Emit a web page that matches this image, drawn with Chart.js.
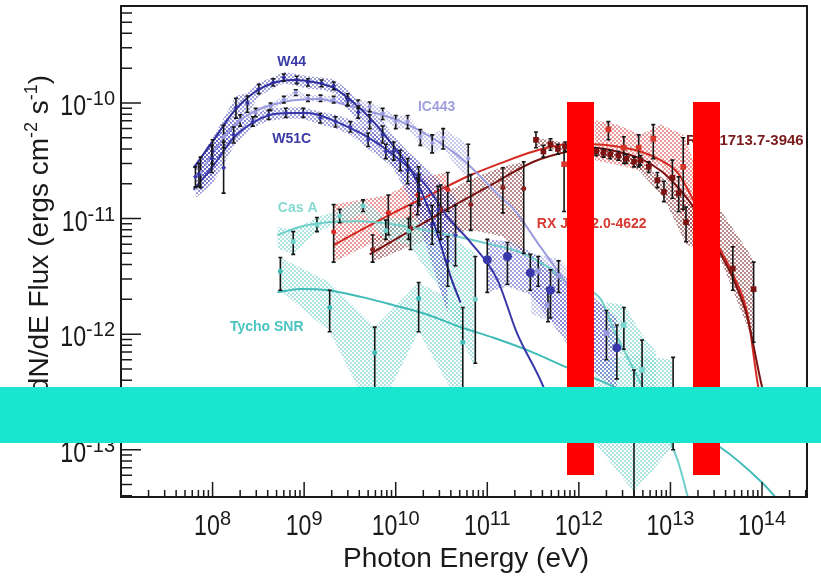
<!DOCTYPE html>
<html>
<head>
<meta charset="utf-8">
<script src="https://cdn.jsdelivr.net/npm/chart.js@4.4.1/dist/chart.umd.min.js"></script>
<style>
  html, body { margin: 0; padding: 0; background: #fff; }
</style>
</head>
<body>
<canvas id="c" width="821" height="584"></canvas>
<script>
// ---- W44 (Fermi) ----
const w44E  = [7.1e7, 9.8e7, 1.8e8, 2.4e8, 3.2e8, 4.6e8, 6.0e8, 8.3e8, 1.1e9, 1.55e9, 2.1e9, 3.0e9, 3.9e9, 5.2e9, 7.2e9, 9.5e9, 1.35e10, 1.8e10, 2.5e10, 3.7e10];
const w44F  = [2.4e-11, 3.3e-11, 9.1e-11, 1.0e-10, 1.32e-10, 1.51e-10, 1.66e-10, 1.58e-10, 1.51e-10, 1.48e-10, 1.41e-10, 1.07e-10, 8.3e-11, 6.9e-11, 5.3e-11, 3.8e-11, 2.6e-11, 1.78e-11, 8.9e-12, 4.3e-12];
const w44Hi = [3.0e-11, 4.3e-11, 1.1e-10, 1.15e-10, 1.45e-10, 1.62e-10, 1.78e-10, 1.70e-10, 1.62e-10, 1.58e-10, 1.52e-10, 1.2e-10, 9.4e-11, 7.9e-11, 6.3e-11, 4.6e-11, 3.3e-11, 2.4e-11, 1.3e-11, 7.0e-12];
const w44Lo = [1.9e-11, 2.5e-11, 7.4e-11, 8.3e-11, 1.2e-10, 1.40e-10, 1.55e-10, 1.47e-10, 1.40e-10, 1.38e-10, 1.30e-10, 9.5e-11, 7.4e-11, 6.0e-11, 4.5e-11, 3.2e-11, 2.0e-11, 1.3e-11, 6.0e-12, 2.6e-12];
const w44BandHi = [3.2e-11, 4.8e-11, 1.15e-10, 1.22e-10, 1.5e-10, 1.68e-10, 1.85e-10, 1.78e-10, 1.7e-10, 1.66e-10, 1.6e-10, 1.3e-10, 1.02e-10, 8.6e-11, 7.0e-11, 5.2e-11, 3.8e-11, 2.9e-11, 1.7e-11, 1.0e-11];
const w44BandLo = [1.7e-11, 2.2e-11, 6.8e-11, 8.0e-11, 1.14e-10, 1.34e-10, 1.48e-10, 1.4e-10, 1.33e-10, 1.3e-10, 1.22e-10, 8.8e-11, 6.7e-11, 5.4e-11, 4.0e-11, 2.7e-11, 1.6e-11, 9.0e-12, 4.0e-12, 1.5e-12];
const w44FitE = [6.2e7, 1.03e8, 1.7e8, 2.8e8, 4.6e8, 7.7e8, 1.27e9, 2.1e9, 3.5e9, 5.7e9, 9.5e9, 1.56e10, 2.6e10, 4.0e10, 5.1e10];
const w44FitF = [2.74e-11, 4.8e-11, 8.4e-11, 1.22e-10, 1.49e-10, 1.58e-10, 1.52e-10, 1.35e-10, 1.0e-10, 6.9e-11, 4.2e-11, 2.4e-11, 9.2e-12, 3.1e-12, 1.87e-12];

// ---- W51C (Fermi + MAGIC) ----
const w51E  = [6.5e7, 1.0e8, 1.32e8, 1.7e8, 2.75e8, 4.1e8, 6.3e8, 9.8e8, 1.5e9, 2.2e9, 3.2e9, 5.0e9, 7.8e9, 1.12e10, 1.78e10, 2.9e10, 4.5e10];
const w51F  = [2.3e-11, 3.8e-11, 2.75e-11, 5.3e-11, 6.9e-11, 7.9e-11, 8.2e-11, 8.2e-11, 7.4e-11, 6.9e-11, 6.2e-11, 4.8e-11, 3.8e-11, 3.2e-11, 1.95e-11, 1.2e-11, 7.2e-12];
const w51Hi = [2.8e-11, 4.8e-11, 4.6e-11, 6.2e-11, 7.6e-11, 8.7e-11, 9.0e-11, 9.0e-11, 8.1e-11, 7.6e-11, 6.9e-11, 5.5e-11, 4.4e-11, 3.9e-11, 2.8e-11, 1.9e-11, 1.3e-11];
const w51Lo = [1.87e-11, 2.95e-11, 1.66e-11, 4.5e-11, 6.3e-11, 7.2e-11, 7.5e-11, 7.5e-11, 6.7e-11, 6.2e-11, 5.6e-11, 4.2e-11, 3.3e-11, 2.6e-11, 1.35e-11, 7.6e-12, 3.9e-12];
const w51BandE  = [6.5e7, 1.0e8, 1.7e8, 2.75e8, 4.1e8, 6.3e8, 9.8e8, 1.5e9, 2.2e9, 3.2e9, 5.0e9, 7.8e9, 1.12e10, 1.78e10, 2.9e10, 4.5e10];
const w51BandHi = [2.9e-11, 5.0e-11, 6.4e-11, 7.8e-11, 8.9e-11, 9.2e-11, 9.2e-11, 8.4e-11, 7.9e-11, 7.2e-11, 5.8e-11, 4.8e-11, 4.2e-11, 3.2e-11, 2.2e-11, 1.5e-11];
const w51BandLo = [1.5e-11, 2.0e-11, 4.2e-11, 6.1e-11, 7.0e-11, 7.3e-11, 7.3e-11, 6.5e-11, 6.0e-11, 5.3e-11, 4.0e-11, 3.1e-11, 2.4e-11, 1.2e-11, 6.5e-12, 3.5e-12];
const w51TevE  = [1.0e11, 1.66e11, 2.95e11, 4.9e11, 2.6e12];
const w51TevF  = [4.4e-12, 4.7e-12, 3.4e-12, 2.4e-12, 7.6e-13];
const w51TevHi = [6.6e-12, 6.2e-12, 4.9e-12, 3.6e-12, 1.2e-12];
const w51TevLo = [2.3e-12, 2.7e-12, 2.4e-12, 1.38e-12, 4.1e-13];
const w51TevBandE  = [1.0e11, 1.66e11, 2.95e11, 4.9e11, 1.0e12, 2.6e12];
const w51TevBandHi = [6.6e-12, 6.4e-12, 5.2e-12, 3.8e-12, 2.6e-12, 1.4e-12];
const w51TevBandLo = [2.3e-12, 2.6e-12, 2.2e-12, 1.3e-12, 6.0e-13, 3.3e-13];
const w51FitE = [6.2e7, 1.03e8, 1.7e8, 2.7e8, 4.3e8, 7.1e8, 1.09e9, 1.8e9, 3.0e9, 4.9e9, 8.1e9, 1.35e10, 2.2e10, 3.7e10, 6.6e10, 1.29e11, 2.1e11, 4.1e11, 5.5e11];
const w51FitF = [1.77e-11, 2.9e-11, 5.0e-11, 6.7e-11, 7.9e-11, 8.2e-11, 8.2e-11, 7.4e-11, 6.2e-11, 5.1e-11, 3.9e-11, 2.8e-11, 1.88e-11, 1.03e-11, 6.2e-12, 2.95e-12, 1.03e-12, 3.5e-13, 1.83e-13];

// ---- IC443 (Fermi + VERITAS) ----
const icE  = [7.4e7, 1.32e8, 2.0e8, 2.95e8, 4.3e8, 6.0e8, 8.1e8, 1.1e9, 1.51e9, 2.1e9, 2.95e9, 3.9e9, 5.2e9, 7.2e9, 1.0e10, 1.35e10, 1.86e10, 2.5e10, 3.3e10, 6.2e10];
const icF  = [2.5e-11, 5.1e-11, 7.1e-11, 8.3e-11, 9.3e-11, 1.07e-10, 1.23e-10, 1.1e-10, 1.1e-10, 1.07e-10, 1.02e-10, 9.8e-11, 9.3e-11, 8.1e-11, 6.9e-11, 6.9e-11, 5.1e-11, 4.5e-11, 5.0e-11, 3.3e-11];
const icHi = [3.4e-11, 6.4e-11, 7.9e-11, 9.0e-11, 1.0e-10, 1.14e-10, 1.3e-10, 1.17e-10, 1.17e-10, 1.14e-10, 1.1e-10, 1.06e-10, 1.02e-10, 9.0e-11, 7.8e-11, 7.8e-11, 5.9e-11, 5.3e-11, 6.0e-11, 4.4e-11];
const icLo = [1.85e-11, 4.1e-11, 6.3e-11, 7.6e-11, 8.6e-11, 1.0e-10, 1.16e-10, 1.03e-10, 1.03e-10, 1.0e-10, 9.4e-11, 9.0e-11, 8.4e-11, 7.2e-11, 6.0e-11, 6.0e-11, 4.3e-11, 3.7e-11, 4.0e-11, 2.1e-11];
const icTevE  = [3.6e11, 4.6e11, 6.0e11, 2.0e12];
const icTevF  = [3.5e-12, 1.78e-12, 3.2e-12, 1.02e-12];
const icTevHi = [4.7e-12, 2.5e-12, 4.3e-12, 1.6e-12];
const icTevLo = [2.6e-12, 1.28e-12, 2.3e-12, 6.0e-13];
const icTevBandE  = [3.0e11, 6.0e11, 2.0e12];
const icTevBandHi = [5.0e-12, 4.5e-12, 1.7e-12];
const icTevBandLo = [1.5e-12, 1.2e-12, 5.5e-13];
const icFitE = [8.3e7, 1.13e8, 1.78e8, 2.8e8, 6.0e8, 1.41e9, 3.2e9, 4.5e9, 1.05e10, 2.4e10, 5.5e10, 1.38e11, 1.95e11, 3.8e11, 7.8e11];
const icFitF = [2.9e-11, 4.2e-11, 6.5e-11, 8.4e-11, 1.02e-10, 1.08e-10, 9.4e-11, 8.7e-11, 7.1e-11, 5.1e-11, 3.2e-11, 1.55e-11, 1.2e-11, 5.7e-12, 2.57e-12];

// ---- Cas A ----
const casE  = [7.6e8, 1.38e9, 2.45e9, 4.4e9, 7.8e9, 1.38e10, 7.4e10];
const casF  = [6.3e-12, 8.9e-12, 1.05e-11, 1.29e-11, 7.9e-12, 7.8e-12, 2.0e-12];
const casHi = [7.7e-12, 1.02e-11, 1.2e-11, 1.45e-11, 9.7e-12, 1.0e-11, 4.7e-12];
const casLo = [4.9e-12, 7.7e-12, 9.2e-12, 1.15e-11, 6.6e-12, 6.6e-12, 5.6e-13];
const casBandE  = [5.1e8, 7.6e8, 1.38e9, 2.45e9, 4.4e9, 7.8e9, 1.38e10, 3.0e10, 7.4e10];
const casBandHi = [8.5e-12, 8.0e-12, 1.02e-11, 1.2e-11, 1.45e-11, 1.0e-11, 1.0e-11, 8.0e-12, 5.0e-12];
const casBandLo = [5.5e-12, 4.9e-12, 7.7e-12, 9.2e-12, 1.1e-11, 6.6e-12, 6.0e-12, 2.5e-12, 5.0e-13];
const casTevE  = [3.1e12, 4.9e12];
const casTevF  = [1.2e-12, 4.9e-13];
const casTevHi = [1.7e-12, 8.9e-13];
const casTevLo = [7.4e-13, 2.5e-13];
const casTevBandE  = [2.0e12, 3.1e12, 4.9e12, 7.0e12];
const casTevBandHi = [1.9e-12, 1.8e-12, 1.0e-12, 7.0e-13];
const casTevBandLo = [8.0e-13, 6.5e-13, 2.5e-13, 1.5e-13];
const casFitE = [5.1e8, 9.1e8, 1.82e9, 4.2e9, 9.5e9, 2.2e10, 5.1e10, 1.17e11, 2.3e11, 4.6e11, 7.6e11, 1.74e12, 2.4e12, 4.0e12, 1.2e13, 1.55e13];
const casFitF = [7.2e-12, 8.5e-12, 9.3e-12, 9.5e-12, 8.9e-12, 7.9e-12, 6.9e-12, 5.9e-12, 5.1e-12, 3.8e-12, 2.75e-12, 2.0e-12, 1.1e-12, 4.9e-13, 8.1e-14, 3.9e-14];

// ---- Tycho SNR ----
const tyE  = [5.5e8, 1.9e9, 5.9e9, 1.78e10, 5.4e10];
const tyF  = [3.5e-12, 1.7e-12, 6.9e-13, 2.04e-12, 8.5e-13];
const tyHi = [4.6e-12, 2.4e-12, 1.15e-12, 2.8e-12, 1.7e-12];
const tyLo = [2.4e-12, 1.05e-12, 2.7e-13, 1.05e-12, 3.3e-13];
const tyBandHi = [4.6e-12, 2.8e-12, 1.15e-12, 2.8e-12, 1.75e-12];
const tyBandLo = [2.4e-12, 1.05e-12, 1.8e-13, 1.05e-12, 2.2e-13];
const tyTevE  = [4.0e12, 1.07e13];
const tyTevF  = [1.23e-13, 2.45e-13];
const tyTevHi = [4.9e-13, 6.3e-13];
const tyTevLo = [3.9e-14, 1.0e-13];
const tyTevBandE  = [1.5e12, 4.0e12, 1.07e13];
const tyTevBandHi = [6.0e-13, 6.6e-13, 6.0e-13];
const tyTevBandLo = [1.15e-13, 4.3e-14, 1.07e-13];
const tyFitE = [5.1e8, 9.1e8, 1.82e9, 4.2e9, 9.5e9, 2.2e10, 5.1e10, 1.17e11, 2.95e11, 7.6e11, 2.4e12, 9.3e12, 3.5e13, 1.0e14, 1.4e14];
const tyFitF = [2.3e-12, 2.46e-12, 2.4e-12, 2.1e-12, 1.78e-12, 1.48e-12, 1.15e-12, 9.3e-13, 7.1e-13, 5.1e-13, 3.5e-13, 1.8e-13, 1.05e-13, 5.2e-14, 3.9e-14];

// ---- RX J1713.7-3946 (Fermi + HESS) ----
const r17E  = [5.6e9, 1.45e10, 3.1e10, 6.6e10, 1.48e11, 2.5e11];
const r17F  = [5.4e-12, 8.3e-12, 1.2e-11, 1.32e-11, 1.86e-11, 1.82e-11];
const r17Hi = [7.2e-12, 1.3e-11, 1.95e-11, 2.4e-11, 2.75e-11, 3.1e-11];
const r17Lo = [4.2e-12, 5.4e-12, 6.6e-12, 7.9e-12, 1.12e-11, 5.0e-12];
const r17BandHi = [6.5e-12, 1.1e-11, 1.6e-11, 2.2e-11, 2.8e-11, 3.1e-11];
const r17BandLo = [4.2e-12, 5.8e-12, 7.0e-12, 8.0e-12, 7.0e-12, 5.0e-12];
const r17HE  = [3.4e11, 4.1e11, 4.9e11, 5.9e11, 7.1e11, 1.55e12, 1.86e12, 2.2e12, 2.7e12, 3.3e12, 4.0e12, 4.7e12, 5.8e12, 7.2e12, 8.5e12, 1.05e13, 1.23e13, 1.48e13, 4.8e13, 8.1e13];
const r17HF  = [4.8e-11, 3.8e-11, 4.4e-11, 4.0e-11, 4.2e-11, 3.8e-11, 3.7e-11, 3.6e-11, 3.5e-11, 3.3e-11, 3.1e-11, 3.2e-11, 2.8e-11, 2.15e-11, 1.7e-11, 2.25e-11, 1.66e-11, 9.3e-12, 3.7e-12, 2.45e-12];
const r17HHi = [5.6e-11, 4.3e-11, 4.9e-11, 4.4e-11, 4.6e-11, 4.1e-11, 4.0e-11, 3.9e-11, 3.8e-11, 3.6e-11, 3.4e-11, 3.5e-11, 3.1e-11, 2.5e-11, 2.1e-11, 3.2e-11, 2.3e-11, 1.26e-11, 5.7e-12, 4.2e-12];
const r17HLo = [4.1e-11, 3.4e-11, 3.9e-11, 3.6e-11, 3.8e-11, 3.5e-11, 3.4e-11, 3.3e-11, 3.2e-11, 3.0e-11, 2.8e-11, 2.9e-11, 2.5e-11, 1.85e-11, 1.4e-11, 1.5e-11, 1.15e-11, 6.3e-12, 2.4e-12, 8.5e-13];
const r17HBandE  = [3.4e11, 1.5e12, 4.0e12, 8.5e12, 1.48e13, 3.5e13, 8.1e13];
const r17HBandHi = [5.0e-11, 4.1e-11, 3.4e-11, 2.2e-11, 1.4e-11, 1.2e-11, 4.4e-12];
const r17HBandLo = [4.2e-11, 3.5e-11, 2.9e-11, 1.5e-11, 6.0e-12, 4.5e-12, 8.5e-13];
const r17FitE = [5.2e9, 2.6e10, 1.0e11, 3.2e11, 7.6e11, 1.45e12, 2.6e12, 4.7e12, 7.8e12, 1.2e13, 1.78e13, 3.5e13, 4.9e13, 6.9e13, 1.0e14, 1.3e14];
const r17FitF = [4.9e-12, 1.03e-11, 1.87e-11, 3.1e-11, 3.8e-11, 4.1e-11, 3.8e-11, 3.3e-11, 2.6e-11, 1.87e-11, 1.26e-11, 5.0e-12, 2.95e-12, 1.41e-12, 3.5e-13, 1.66e-13];

// ---- RX J0852.0-4622 (Fermi + HESS) ----
const r08E  = [2.1e9, 8.3e9, 1.74e10, 3.7e10];
const r08F  = [7.7e-12, 1.12e-11, 1.6e-11, 1.78e-11];
const r08Hi = [1.32e-11, 1.6e-11, 2.25e-11, 2.5e-11];
const r08Lo = [4.2e-12, 7.2e-12, 1.08e-11, 1.15e-11];
const r08HE  = [6.9e11, 2.1e12, 3.1e12, 4.5e12, 6.5e12, 1.38e13];
const r08HF  = [2.95e-11, 5.9e-11, 4.1e-11, 4.1e-11, 4.9e-11, 2.8e-11];
const r08HHi = [4.2e-11, 6.9e-11, 5.1e-11, 5.3e-11, 6.5e-11, 5.0e-11];
const r08HLo = [1.15e-11, 4.8e-11, 3.0e-11, 2.8e-11, 3.3e-11, 1.2e-11];
const r08HBandE  = [1.5e12, 2.6e12, 4.7e12, 7.8e12, 1.38e13, 1.78e13];
const r08HBandHi = [7.1e-11, 6.5e-11, 5.3e-11, 6.5e-11, 5.3e-11, 3.2e-11];
const r08HBandLo = [3.2e-11, 2.9e-11, 2.6e-11, 2.9e-11, 9.8e-12, 7.2e-12];
const r08FitE = [2.1e9, 4.9e9, 1.12e10, 2.6e10, 6.0e10, 1.38e11, 3.2e11, 7.6e11, 1.45e12, 2.6e12, 4.7e12, 7.8e12, 1.2e13, 1.78e13, 3.5e13, 4.9e13, 6.9e13, 9.1e13, 1.12e14];
const r08FitF = [5.9e-12, 8.5e-12, 1.2e-11, 1.66e-11, 2.3e-11, 3.0e-11, 3.8e-11, 4.4e-11, 4.4e-11, 4.2e-11, 3.8e-11, 3.2e-11, 2.5e-11, 1.45e-11, 5.4e-12, 3.2e-12, 1.52e-12, 3.5e-13, 1.66e-13];

// source name labels, placed in data units
const labelText  = ['W44', 'W51C', 'IC443', 'Cas A', 'Tycho SNR', 'RX J0852.0-4622', 'RX J1713.7-3946'];
const labelE     = [7.3e8, 7.3e8, 2.8e10, 8.5e8, 3.9e8, 1.38e12, 6.5e13];
const labelF     = [2.25e-10, 4.9e-11, 9.2e-11, 1.23e-11, 1.15e-12, 8.9e-12, 4.7e-11];
const labelColor = ['#3a3aa6', '#3a3aa6', '#a0a0e0', '#86dad2', '#4cc4c0', '#d63a30', '#7a1a1a'];

// axis ticks
const xDecades = [7, 8, 9, 10, 11, 12, 13, 14];
const xLabelExp = ['8', '9', '10', '11', '12', '13', '14'];
const yDecades = [-14, -13, -12, -11, -10];
const yLabelExp = ['-10', '-11', '-12', '-13'];

const FONT = '"Liberation Sans", Arial, Helvetica, sans-serif';
const canvas = document.getElementById('c');
const ctx0 = canvas.getContext('2d');

// dotted fill like ROOT's pattern fill
function hatch(color) {
  const t = document.createElement('canvas');
  t.width = 4; t.height = 4;
  const g = t.getContext('2d');
  g.fillStyle = color;
  g.fillRect(0, 0, 2, 2);
  g.fillRect(2, 2, 2, 2);
  return ctx0.createPattern(t, 'repeat');
}

const pts = (E, F) => E.map((e, i) => ({ x: e, y: F[i] }));

function band(E, hi, lo, pat) {
  return [
    { data: pts(E, hi), fill: '+1', backgroundColor: pat, borderWidth: 0, pointRadius: 0, tension: 0, order: 3 },
    { data: pts(E, lo), fill: false, borderWidth: 0, pointRadius: 0, tension: 0, order: 3 }
  ];
}
function fit(E, F, color) {
  return { data: pts(E, F), borderColor: color, borderWidth: 2, pointRadius: 0, fill: false,
           cubicInterpolationMode: 'monotone', order: 2 };
}
function marks(E, F, hi, lo, color, style, r) {
  return { data: pts(E, F), errHi: hi, errLo: lo, showLine: false, pointRadius: r, pointStyle: style,
           backgroundColor: color, borderColor: color, borderWidth: 0, pointBorderWidth: 0, order: 1 };
}

const cW44 = '#2e2e9e', cW51 = '#3838aa', cIC = '#9a9ade', cCas = '#6fd0ca', cTy = '#3fbcb8', cR08 = '#d42a22', cR17 = '#7c1212';
const hBlue = 'rgba(70,70,185,0.5)', hLav = 'rgba(160,160,228,0.55)', hCyan = 'rgba(120,212,206,0.6)',
      hMaroon = 'rgba(128,40,40,0.55)', hRed = 'rgba(216,70,70,0.55)';

const datasets = [
  ...band(w44E, w44BandHi, w44BandLo, hatch(hBlue)),
  ...band(w51BandE, w51BandHi, w51BandLo, hatch(hBlue)),
  ...band(w51TevBandE, w51TevBandHi, w51TevBandLo, hatch(hBlue)),
  ...band(icE, icHi, icLo, hatch(hLav)),
  ...band(icTevBandE, icTevBandHi, icTevBandLo, hatch(hLav)),
  ...band(casBandE, casBandHi, casBandLo, hatch(hCyan)),
  ...band(casTevBandE, casTevBandHi, casTevBandLo, hatch(hCyan)),
  ...band(tyE, tyBandHi, tyBandLo, hatch(hCyan)),
  ...band(tyTevBandE, tyTevBandHi, tyTevBandLo, hatch(hCyan)),
  ...band(r17E, r17BandHi, r17BandLo, hatch(hMaroon)),
  ...band(r17HBandE, r17HBandHi, r17HBandLo, hatch(hMaroon)),
  ...band(r08E, r08Hi, r08Lo, hatch(hRed)),
  ...band(r08HBandE, r08HBandHi, r08HBandLo, hatch(hRed)),

  fit(w44FitE, w44FitF, cW44),
  fit(w51FitE, w51FitF, cW51),
  fit(icFitE, icFitF, cIC),
  fit(casFitE, casFitF, cCas),
  fit(tyFitE, tyFitF, cTy),
  fit(r17FitE, r17FitF, cR17),
  fit(r08FitE, r08FitF, cR08),

  marks(w44E, w44F, w44Hi, w44Lo, cW44, 'rectRot', 2.5),
  marks(w51E, w51F, w51Hi, w51Lo, cW51, 'rectRot', 2.5),
  marks(w51TevE, w51TevF, w51TevHi, w51TevLo, cW51, 'circle', 4.5),
  marks(icE, icF, icHi, icLo, cIC, 'rectRot', 2.5),
  marks(icTevE, icTevF, icTevHi, icTevLo, '#9898dc', 'rect', 4),
  marks(casE, casF, casHi, casLo, cCas, 'circle', 2.5),
  marks(casTevE, casTevF, casTevHi, casTevLo, '#7ad8d2', 'rect', 4),
  marks(tyE, tyF, tyHi, tyLo, cTy, 'circle', 2.5),
  marks(tyTevE, tyTevF, tyTevHi, tyTevLo, cTy, 'circle', 2.5),
  marks(r17E, r17F, r17Hi, r17Lo, '#8a2020', 'circle', 2.5),
  marks(r17HE, r17HF, r17HHi, r17HLo, cR17, 'rect', 4),
  marks(r08E, r08F, r08Hi, r08Lo, cR08, 'circle', 2.5),
  marks(r08HE, r08HF, r08HHi, r08HLo, '#d8352a', 'rect', 4)
];

// black error bars, drawn just before each marker set
const errorBars = {
  id: 'errorBars',
  beforeDatasetDraw(chart, args) {
    const ds = chart.data.datasets[args.index];
    if (!ds.errHi) return;
    const { ctx, chartArea: a, scales: { x, y } } = chart;
    ctx.save();
    ctx.beginPath();
    ctx.rect(a.left, a.top, a.right - a.left, a.bottom - a.top);
    ctx.clip();
    ctx.strokeStyle = '#161616';
    ctx.lineWidth = 1.6;
    ds.data.forEach((p, i) => {
      const px = x.getPixelForValue(p.x);
      const y1 = y.getPixelForValue(ds.errHi[i]);
      const y2 = y.getPixelForValue(ds.errLo[i]);
      ctx.beginPath();
      ctx.moveTo(px, y1); ctx.lineTo(px, y2);
      ctx.moveTo(px - 2, y1); ctx.lineTo(px + 2, y1);
      ctx.moveTo(px - 2, y2); ctx.lineTo(px + 2, y2);
      ctx.stroke();
    });
    ctx.restore();
  }
};

// source names
const sourceLabels = {
  id: 'sourceLabels',
  afterDatasetsDraw(chart) {
    const { ctx, scales: { x, y } } = chart;
    ctx.save();
    ctx.textAlign = 'center';
    ctx.textBaseline = 'middle';
    labelText.forEach((t, i) => {
      ctx.font = 'bold ' + (i === 6 ? 15 : 14) + 'px ' + FONT;
      ctx.fillStyle = labelColor[i];
      ctx.fillText(t, x.getPixelForValue(labelE[i]), y.getPixelForValue(labelF[i]));
    });
    ctx.restore();
  }
};

// "10" with a raised exponent
function drawPow(ctx, exp, x, yBase, align) {
  ctx.font = '29px ' + FONT;
  const bw = ctx.measureText('10').width * 0.8;
  ctx.font = '20px ' + FONT;
  const ew = ctx.measureText(exp).width;
  const left = align === 'center' ? x - (bw + ew) / 2 : x - bw - ew;
  ctx.textAlign = 'left';
  ctx.textBaseline = 'alphabetic';
  ctx.save();
  ctx.translate(left, yBase);
  ctx.scale(0.8, 1);
  ctx.font = '29px ' + FONT;
  ctx.fillText('10', 0, 0);
  ctx.restore();
  ctx.font = '20px ' + FONT;
  ctx.fillText(exp, left + bw, yBase - 10);
}

const frame = {
  id: 'frame',
  afterDraw(chart) {
    const { ctx, chartArea: a, scales: { x, y } } = chart;
    ctx.save();
    ctx.strokeStyle = '#1a1a1a';
    ctx.fillStyle = '#1a1a1a';
    ctx.lineWidth = 2;
    ctx.strokeRect(a.left, a.top, a.right - a.left, a.bottom - a.top);

    // ticks inside the frame
    ctx.lineWidth = 1.5;
    ctx.beginPath();
    xDecades.forEach(n => {
      for (let k = 1; k <= 9; k++) {
        const v = k * Math.pow(10, n);
        if (v <= x.min * 1.001 || v > x.max) continue;
        const px = x.getPixelForValue(v);
        ctx.moveTo(px, a.bottom);
        ctx.lineTo(px, a.bottom - (k === 1 ? 15 : 7));
      }
    });
    yDecades.forEach(n => {
      for (let k = 1; k <= 9; k++) {
        const v = k * Math.pow(10, n);
        if (v < y.min || v > y.max) continue;
        const py = y.getPixelForValue(v);
        ctx.moveTo(a.left, py);
        ctx.lineTo(a.left + (k === 1 ? 20 : 11), py);
      }
    });
    ctx.stroke();

    // tick labels
    xLabelExp.forEach(e => drawPow(ctx, e, x.getPixelForValue(Math.pow(10, +e)), 535, 'center'));
    yLabelExp.forEach(e => drawPow(ctx, e, 115, y.getPixelForValue(Math.pow(10, +e)) + 12, 'right'));

    // axis titles
    ctx.font = '28px ' + FONT;
    ctx.textAlign = 'center';
    ctx.textBaseline = 'alphabetic';
    ctx.fillText('Photon Energy (eV)', 466, 567);

    const parts = [['dN/dE Flux (ergs cm', 0], ['-2', 1], [' s', 0], ['-1', 1], [')', 0]];
    const fontOf = sup => (sup ? '18px ' : '28px ') + FONT;
    let total = 0;
    parts.forEach(([t, s]) => { ctx.font = fontOf(s); total += ctx.measureText(t).width; });
    ctx.translate(48, 234);
    ctx.rotate(-Math.PI / 2);
    ctx.textAlign = 'left';
    let cx = -total / 2;
    parts.forEach(([t, s]) => {
      ctx.font = fontOf(s);
      ctx.fillText(t, cx, s ? -11 : 0);
      cx += ctx.measureText(t).width;
    });
    ctx.restore();

    // blocks painted over the figure
    ctx.save();
    ctx.fillStyle = '#ff0000';
    ctx.fillRect(567, 102, 27, 373);
    ctx.fillRect(693, 102, 27, 373);
    ctx.fillStyle = '#1ae6d0';
    ctx.fillRect(0, 387, 821, 56);
    ctx.restore();
  }
};

new Chart(canvas, {
  type: 'line',
  data: { datasets },
  options: {
    responsive: false,
    animation: false,
    devicePixelRatio: 1,
    layout: { padding: { top: 6, right: 14, left: 0, bottom: 0 } },
    plugins: { legend: { display: false }, tooltip: { enabled: false } },
    scales: {
      x: {
        type: 'logarithmic', min: 1e7, max: 3.1e14,
        grid: { display: false }, border: { display: false }, ticks: { display: false },
        afterFit(s) { s.height = 87; }
      },
      y: {
        type: 'logarithmic', min: 3.9e-14, max: 6.9e-10,
        grid: { display: false }, border: { display: false }, ticks: { display: false },
        afterFit(s) { s.width = 121; }
      }
    }
  },
  plugins: [errorBars, sourceLabels, frame]
});
</script>
</body>
</html>
